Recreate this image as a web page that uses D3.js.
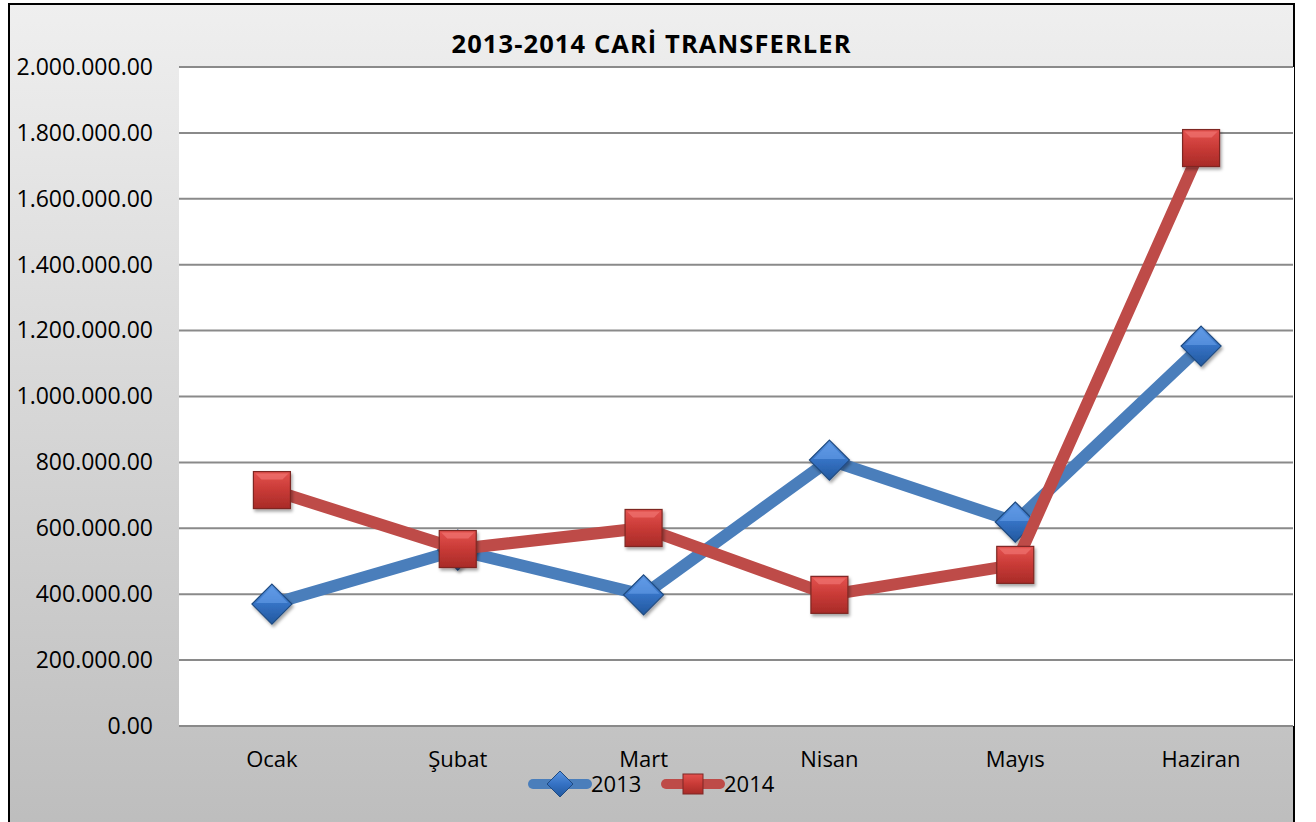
<!DOCTYPE html>
<html><head><meta charset="utf-8">
<script src="https://cdn.jsdelivr.net/npm/d3@7"></script>
<style>html,body{margin:0;padding:0;background:#fff;}svg{display:block;}</style>
</head><body>
<svg id="chart" width="1316" height="822"></svg>
<script>
const categories = ["Ocak", "Şubat", "Mart", "Nisan", "Mayıs", "Haziran"];
const values2013 = [370000, 534000, 398000, 807000, 619000, 1153000];
const values2014 = [716000, 537000, 601000, 398000, 489000, 1754000];
const yTicks = [0, 200000, 400000, 600000, 800000, 1000000, 1200000, 1400000, 1600000, 1800000, 2000000];
const seriesNames = ["2013", "2014"];
const title = "2013-2014 CARİ TRANSFERLER";

const svg = d3.select("#chart");
const font = "'Open Sans', sans-serif";
const defs = svg.append("defs");

const bg = defs.append("linearGradient").attr("id","bg").attr("x1",0).attr("y1",0).attr("x2",0).attr("y2",1);
bg.append("stop").attr("offset","0").attr("stop-color","#efefef");
bg.append("stop").attr("offset","1").attr("stop-color","#bdbdbd");

const sq = defs.append("linearGradient").attr("id","sq").attr("x1",0).attr("y1",0).attr("x2",0).attr("y2",1);
sq.append("stop").attr("offset","0").attr("stop-color","#e4524f");
sq.append("stop").attr("offset","0.5").attr("stop-color","#c83a36");
sq.append("stop").attr("offset","1").attr("stop-color","#a82b28");
const dm = defs.append("linearGradient").attr("id","dm").attr("x1",0).attr("y1",0).attr("x2",0).attr("y2",1);
dm.append("stop").attr("offset","0").attr("stop-color","#5a94e0");
dm.append("stop").attr("offset","0.5").attr("stop-color","#3572c4");
dm.append("stop").attr("offset","1").attr("stop-color","#22589e");
const sh = defs.append("filter").attr("id","shadow").attr("x","-30%").attr("y","-30%").attr("width","160%").attr("height","160%");
sh.append("feDropShadow").attr("dx",1.5).attr("dy",2.5).attr("stdDeviation",1.8).attr("flood-color","#000").attr("flood-opacity",0.35);

// background + border
svg.append("rect").attr("x",9).attr("y",4).attr("width",1285).attr("height",830)
  .attr("fill","url(#bg)").attr("stroke","#000").attr("stroke-width",2);

const plot = {left:179, right:1294, top:67, bottom:726};
svg.append("rect").attr("x",plot.left).attr("y",plot.top)
  .attr("width",plot.right-plot.left).attr("height",plot.bottom-plot.top).attr("fill","#fff");

const x = d3.scaleBand().domain(categories).range([plot.left, plot.right]);
const y = d3.scaleLinear().domain([0, 2000000]).range([plot.bottom, plot.top]);
const fmt = v => d3.format(",.2f")(v).replace(/,/g, ".");

// gridlines
svg.append("g").selectAll("line").data(yTicks).join("line")
  .attr("x1",plot.left).attr("x2",plot.right-1)
  .attr("y1",d=>y(d)).attr("y2",d=>y(d))
  .attr("stroke","#8a8a8a").attr("stroke-width",2);

// y axis
const yAxis = d3.axisLeft(y).tickValues(yTicks).tickFormat(fmt).tickSize(0).tickPadding(26);
const yg = svg.append("g").attr("transform",`translate(${plot.left},0)`).call(yAxis);
yg.select(".domain").remove();
yg.selectAll("text").attr("font-family",font).attr("font-size",23).attr("fill","#000");

// x axis
const xAxis = d3.axisBottom(x).tickSize(0).tickPadding(25);
const xg = svg.append("g").attr("transform",`translate(0,${plot.bottom})`).call(xAxis);
xg.select(".domain").remove();
xg.selectAll("text").attr("font-family",font).attr("font-size",22).attr("fill","#000");

// title
svg.append("text").attr("x",651).attr("y",53).attr("text-anchor","middle")
  .attr("font-family",font).attr("font-weight","bold").attr("font-size",25.5)
  .attr("textLength",399).attr("lengthAdjust","spacing").attr("fill","#000").text(title);

const cx = d => x(d) + x.bandwidth()/2;
const line = d3.line().x((d,i)=>cx(categories[i])).y(d=>y(d));

const series = [
  {name:seriesNames[0], values:values2013, color:"#4a7ebb", marker:"diamond"},
  {name:seriesNames[1], values:values2014, color:"#be4b48", marker:"square"}
];

function drawMarker(g, type, px, py) {
  if (type === "square") {
    const s = 37;
    g.append("rect").attr("x",px-s/2).attr("y",py-s/2).attr("width",s).attr("height",s)
      .attr("fill","url(#sq)").attr("stroke","#7e2724").attr("stroke-width",1.2).attr("filter","url(#shadow)");
    g.append("path").attr("d",`M${px-s/2+2},${py-s/2+2}L${px+s/2-2},${py-s/2+2}L${px+s/2-8},${py-s/2+8}L${px-s/2+8},${py-s/2+8}Z`)
      .attr("fill","#f07370").attr("opacity",0.7);
  } else {
    const r = 20;
    g.append("path").attr("d",`M${px},${py-r}L${px+r},${py}L${px},${py+r}L${px-r},${py}Z`)
      .attr("fill","url(#dm)").attr("stroke","#1f4a80").attr("stroke-width",1.2).attr("filter","url(#shadow)");
    g.append("path").attr("d",`M${px},${py-r+3}L${px+r-4},${py-1}L${px-r+4},${py-1}Z`)
      .attr("fill","#6aa3ec").attr("opacity",0.55);
  }
}

series.forEach(s => {
  const g = svg.append("g");
  g.append("path").datum(s.values).attr("d",line).attr("fill","none")
    .attr("stroke",s.color).attr("stroke-width",12).attr("stroke-linejoin","round");
  s.values.forEach((v,i) => drawMarker(g, s.marker, cx(categories[i]), y(v)));
});

// legend
const legendItems = [
  {name:seriesNames[0], color:"#4a7ebb", marker:"diamond", x0:530},
  {name:seriesNames[1], color:"#be4b48", marker:"square", x0:663}
];
legendItems.forEach(it => {
  const g = svg.append("g");
  const ly = 784;
  g.append("line").attr("x1",it.x0+3).attr("x2",it.x0+57).attr("y1",ly).attr("y2",ly)
    .attr("stroke",it.color).attr("stroke-width",10).attr("stroke-linecap","round");
  if (it.marker === "diamond") {
    const r = 13, px = it.x0+30, py = ly;
    g.append("path").attr("d",`M${px},${py-r}L${px+r},${py}L${px},${py+r}L${px-r},${py}Z`)
      .attr("fill","url(#dm)").attr("stroke","#1f4a80").attr("stroke-width",1);
  } else {
    const s = 20, px = it.x0+30, py = ly;
    g.append("rect").attr("x",px-s/2).attr("y",py-s/2).attr("width",s).attr("height",s)
      .attr("fill","url(#sq)").attr("stroke","#7e2724").attr("stroke-width",1);
  }
  g.append("text").attr("x",it.x0+61).attr("y",ly+8).attr("font-family",font)
    .attr("font-size",22).attr("fill","#000").text(it.name);
});
</script>
</body></html>
